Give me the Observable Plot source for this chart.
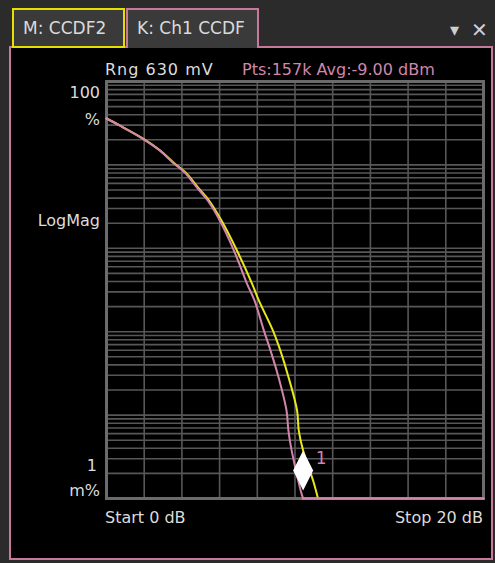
<!DOCTYPE html>
<html>
<head>
<meta charset="utf-8">
<script src="https://cdn.jsdelivr.net/npm/d3@7"></script>
<script src="https://cdn.jsdelivr.net/npm/@observablehq/plot@0.6"></script>
<style>
  html, body { margin: 0; padding: 0; background: #2b2b2b; }
  #wrap { position: relative; width: 495px; height: 563px; overflow: hidden; background: #2b2b2b; font-family: "DejaVu Sans", sans-serif; }
  .tab { position: absolute; box-sizing: border-box; background: #3a3a3a; color: #dadada; font-size: 17px; line-height: 36px; padding-left: 9px; }
  #panel { position: absolute; left: 9px; top: 46px; width: 484px; height: 514px; box-sizing: border-box; border: 2px solid #c7799b; background: #000; }
  .lbl { position: absolute; color: #dcdcdc; font-size: 16px; line-height: 16px; white-space: nowrap; }
  #chart { position: absolute; left: 0; top: 60px; }
</style>
</head>
<body>
<div id="wrap">
  <div id="panel"></div>
  <div class="tab" style="left:12px;top:8px;width:113px;height:40px;border:2px solid #e6e000;" id="tabM"></div>
  <div class="tab" style="left:126px;top:8px;width:133px;height:40px;border:2px solid #c7799b;border-bottom:none;" id="tabK"></div>
  <div class="lbl" style="left:450px;top:21px;font-size:18px;line-height:18px;color:#cfcfcf;">▾</div>
  <div class="lbl" style="left:471px;top:20px;font-size:20px;line-height:20px;color:#cfcfcf;">✕</div>
  <div id="chart"></div>
  <div class="lbl" id="rng" style="left:105px;top:62px;letter-spacing:1px;"></div>
  <div class="lbl" id="pts" style="left:242px;top:62px;color:#cf87aa;"></div>
  <div class="lbl" id="top1" style="right:395px;top:85px;"></div>
  <div class="lbl" id="top2" style="right:395px;top:112px;"></div>
  <div class="lbl" id="mid" style="right:395px;top:213px;"></div>
  <div class="lbl" id="bot1" style="right:398px;top:458px;"></div>
  <div class="lbl" id="bot2" style="right:395px;top:483px;"></div>
  <div class="lbl" id="start" style="left:105px;top:510px;"></div>
  <div class="lbl" id="stop" style="right:12px;top:510px;"></div>
</div>
<script>
// ---- texts ----
const tabLabels = ["M: CCDF2", "K: Ch1 CCDF"];
const headerLeft = "Rng 630 mV";
const headerRight = "Pts:157k Avg:-9.00 dBm";
const yLabelsTop = ["100", "%"];
const yLabelMid = "LogMag";
const yLabelsBottom = ["1", "m%"];
const xStartLabel = "Start 0 dB";
const xStopLabel = "Stop 20 dB";

// ---- axes / grid ----
const xDomain = [0, 20];
const yDomain = [0.001, 100];
const xGrid = [2, 4, 6, 8, 10, 12, 14, 16, 18];
const decades = [0.001, 0.01, 0.1, 1, 10];
const multipliers = [1, 2, 3, 4, 5, 6, 7, 8, 9];

// ---- traces (dB above average, percent probability) ----
const pinkDb  = [0, 0.69, 1.91, 2.82, 3.51, 4.15, 4.79, 5.37, 6.01, 6.76, 7.45, 7.85, 8.35, 8.70, 9.10, 9.55, 9.65, 9.82, 10.30, 10.43];
const pinkPct = [36, 29.7, 20.7, 14.9, 10.7, 8.1, 5.36, 3.74, 2.15, 0.94, 0.378, 0.237, 0.103, 0.0596, 0.0299, 0.01135, 0.00653, 0.00377, 0.00125, 0.001];
const pinkFloorDb  = [10.43, 20];
const pinkFloorPct = [0.001, 0.001];
const yellowDb  = [0, 0.70, 1.94, 2.85, 3.55, 4.20, 4.85, 5.44, 6.10, 6.92, 7.72, 8.08, 8.83, 9.22, 9.63, 10.11, 10.20, 10.43, 10.96, 11.22];
const yellowPct = [36, 29.7, 20.7, 14.9, 10.7, 8.1, 5.36, 3.74, 2.15, 0.94, 0.378, 0.237, 0.103, 0.0596, 0.0299, 0.01135, 0.00653, 0.00377, 0.00164, 0.001];

// ---- marker ----
const markerDb = [10.43];
const markerPct = [0.00217];
const markerLabel = ["1"];

const PINK = "#d384ab";
const YELLOW = "#e8e81c";

document.getElementById("tabM").textContent = tabLabels[0];
document.getElementById("tabK").textContent = tabLabels[1];
document.getElementById("rng").textContent = headerLeft;
document.getElementById("pts").textContent = headerRight;
document.getElementById("top1").textContent = yLabelsTop[0];
document.getElementById("top2").textContent = yLabelsTop[1];
document.getElementById("mid").textContent = yLabelMid;
document.getElementById("bot1").textContent = yLabelsBottom[0];
document.getElementById("bot2").textContent = yLabelsBottom[1];
document.getElementById("start").textContent = xStartLabel;
document.getElementById("stop").textContent = xStopLabel;

const yGrid = [];
for (const d of decades) for (const m of multipliers) yGrid.push(d * m);

const pink = pinkDb.map((d, i) => ({db: d, pct: pinkPct[i]}));
const pinkFloor = pinkFloorDb.map((d, i) => ({db: d, pct: pinkFloorPct[i]}));
const yellow = yellowDb.map((d, i) => ({db: d, pct: yellowPct[i]}));
const marker = markerDb.map((d, i) => ({db: d, pct: markerPct[i], label: markerLabel[i]}));

const tallDiamond = {
  draw(context) {
    context.moveTo(0, -20);
    context.lineTo(10, 0);
    context.lineTo(0, 20);
    context.lineTo(-10, 0);
    context.closePath();
  }
};

const chart = Plot.plot({
  width: 495,
  height: 440,
  marginLeft: 106,
  marginRight: 12,
  marginTop: 21,
  marginBottom: 2,
  style: {background: "transparent", overflow: "visible"},
  x: {domain: xDomain, axis: null},
  y: {type: "log", domain: yDomain, axis: null},
  marks: [
    Plot.ruleX(xGrid, {stroke: "#575757", strokeWidth: 1.6}),
    Plot.ruleY(yGrid, {stroke: "#575757", strokeWidth: 1.6}),
    Plot.frame({stroke: "#6b6b6b", strokeWidth: 3}),
    Plot.line(yellow, {x: "db", y: "pct", stroke: YELLOW, strokeWidth: 2, curve: "catmull-rom"}),
    Plot.line(pink, {x: "db", y: "pct", stroke: PINK, strokeWidth: 2, curve: "catmull-rom"}),
    Plot.line(pinkFloor, {x: "db", y: "pct", stroke: PINK, strokeWidth: 2.5}),
    Plot.dot(marker, {x: "db", y: "pct", symbol: tallDiamond, fill: "white", stroke: "none", r: 10}),
    Plot.text(marker, {x: "db", y: "pct", text: "label", dx: 18, dy: -12, fill: PINK, fontSize: 17, fontFamily: "DejaVu Sans"})
  ]
});
document.getElementById("chart").appendChild(chart);
</script>
</body>
</html>
